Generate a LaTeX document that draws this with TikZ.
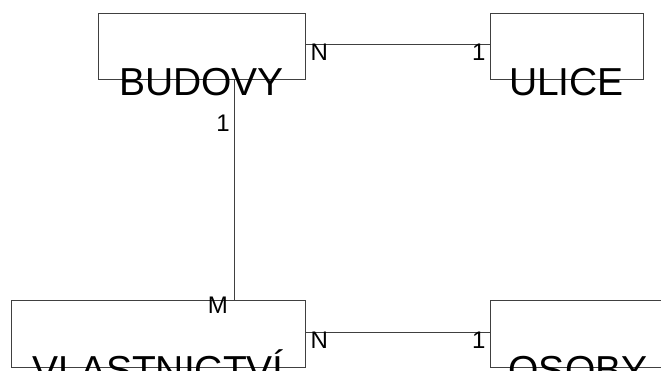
\documentclass[tikz,border=0pt]{standalone}
\usepackage{fontspec}
\setmainfont{Liberation Sans}
\begin{document}
\begin{tikzpicture}[x=1pt,y=-1pt,
  entity/.style={draw=black!75, line width=0.9pt, inner sep=0pt, minimum height=66pt},
  etext/.style={inner sep=0pt, anchor=base, font=\fontsize{39}{39}\selectfont},
  card/.style={inner sep=0pt, font=\fontsize{24}{24}\selectfont},
  conn/.style={draw=black!75, line width=0.9pt}]
\useasboundingbox (0,0) rectangle (661,370);
\clip (0,0) rectangle (661,370);
% entities
\node[entity, minimum width=207pt] (budovy) at (201.5,46) {};
\node[entity, minimum width=153pt] (ulice) at (566.5,46) {};
\node[entity, minimum width=294pt, minimum height=67pt] (vlast) at (158,333.5) {};
\node[entity, minimum width=176pt, minimum height=67pt] (osoby) at (578,333.5) {};
% entity names
\node[etext] (tbudovy) at ([yshift=-16pt]budovy.south) {BUDOVY};
\node[etext] (tulice) at ([yshift=-16pt]ulice.south) {ULICE};
\node[etext] (tvlast) at ([yshift=-16pt]vlast.south) {VLASTNICTVÍ};
\node[etext] (tosoby) at ([yshift=-16pt]osoby.south) {OSOBY};
% connectors
\coordinate (c1a) at ([yshift=2pt]budovy.east);
\coordinate (c1b) at (c1a -| ulice.west);
\draw[conn] (c1a) -- (c1b);
\coordinate (c2a) at ([yshift=1.5pt]vlast.east);
\coordinate (c2b) at (c2a -| osoby.west);
\draw[conn] (c2a) -- (c2b);
\coordinate (c3a) at ([xshift=32.5pt]budovy.south);
\coordinate (c3b) at (c3a |- vlast.north);
\draw[conn] (c3a) -- (c3b);
% cardinalities
\node[card, anchor=north west] (n1) at ([xshift=5pt]c1a) {N};
\node[card, anchor=north east] (o1) at ([xshift=-4pt]c1b) {1};
\node[card, anchor=north west] (n2) at ([xshift=5pt]c2a) {N};
\node[card, anchor=north east] (o2) at ([xshift=-4pt]c2b) {1};
\node[card, anchor=north east] (o3) at ([xshift=-4pt,yshift=-35pt]c3a) {1};
\node[card, anchor=north east] (m3) at ([xshift=-6pt,yshift=3pt]c3b) {M};
\end{tikzpicture}
\end{document}
